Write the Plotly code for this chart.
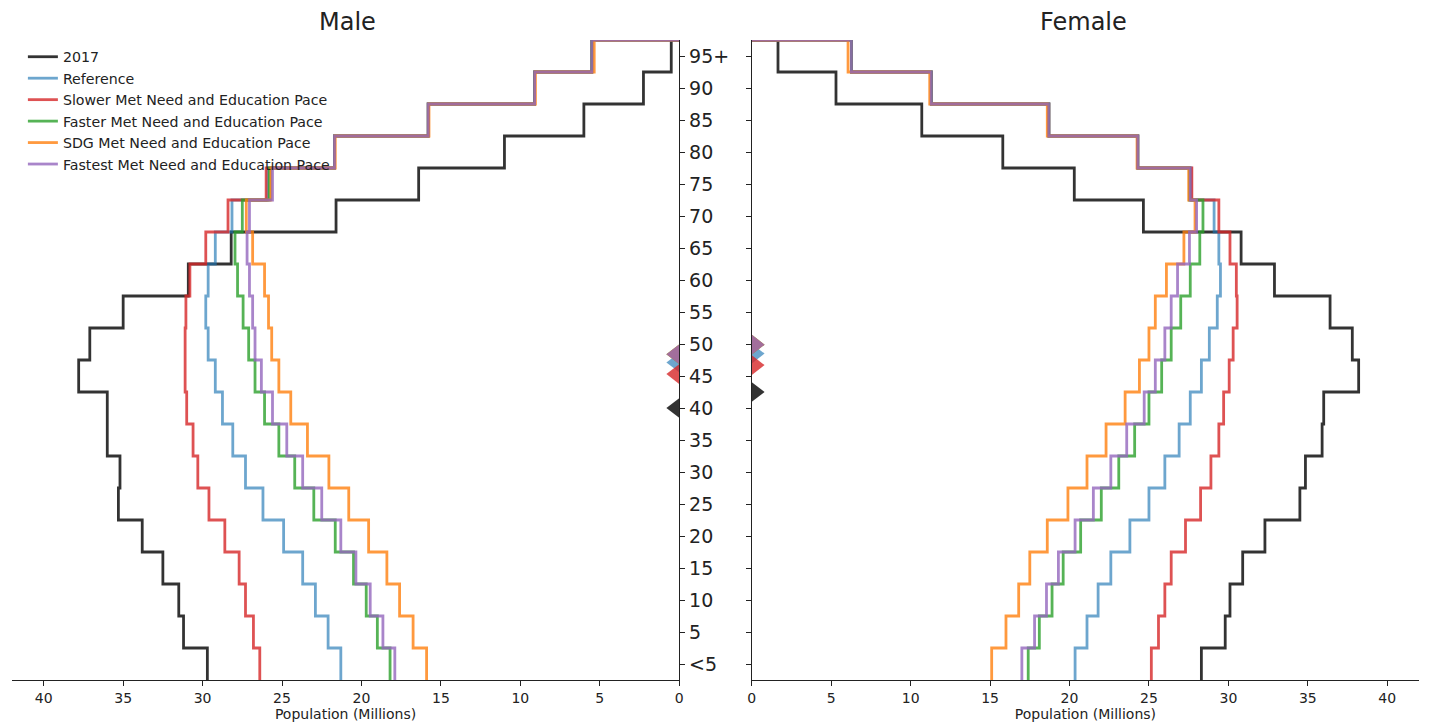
import numpy as np
import plotly.graph_objects as go

# ---------------- data ----------------
age_labels = ['<5', '5', '10', '15', '20', '25', '30', '35', '40', '45',
              '50', '55', '60', '65', '70', '75', '80', '85', '90', '95+']

series_names = ['2017', 'Reference', 'Slower Met Need and Education Pace',
                'Faster Met Need and Education Pace', 'SDG Met Need and Education Pace',
                'Fastest Met Need and Education Pace']

male_2017 = [29.7, 31.2, 31.5, 32.5, 33.8, 35.3, 35.2, 36.0, 36.0, 37.8,
             37.1, 35.0, 30.9, 28.2, 21.6, 16.4, 11.0, 6.0, 2.25, 0.5]
male_reference = [21.3, 22.1, 22.9, 23.7, 24.9, 26.2, 27.3, 28.1, 28.75, 29.2,
                  29.65, 29.8, 29.65, 29.2, 28.15, 25.9, 21.7, 15.8, 9.1, 5.5]
male_slower = [26.4, 26.8, 27.3, 27.7, 28.6, 29.6, 30.3, 30.6, 31.0, 31.1,
               31.1, 31.05, 30.8, 29.8, 28.4, 26.0, 21.7, 15.8, 9.1, 5.5]
male_faster = [18.2, 19.0, 19.7, 20.5, 21.65, 23.0, 24.2, 25.2, 26.1, 26.7,
               27.1, 27.45, 27.8, 27.96, 27.5, 25.8, 21.7, 15.8, 9.1, 5.5]
male_sdg = [15.9, 16.75, 17.6, 18.4, 19.55, 20.8, 22.05, 23.4, 24.45, 25.2,
            25.65, 25.85, 26.1, 26.85, 27.25, 25.7, 21.65, 15.75, 9.05, 5.35]
male_fastest = [17.9, 18.65, 19.45, 20.35, 21.3, 22.5, 23.7, 24.7, 25.6, 26.3,
                26.7, 26.85, 27.05, 27.2, 27.05, 25.6, 21.7, 15.8, 9.1, 5.5]

female_2017 = [28.3, 29.8, 30.1, 30.9, 32.3, 34.5, 34.85, 35.9, 36.0, 38.2,
               37.8, 36.4, 32.9, 30.8, 24.65, 20.3, 15.8, 10.7, 5.3, 1.65]
female_reference = [20.35, 21.1, 21.8, 22.6, 23.8, 25.0, 26.0, 26.9, 27.6, 28.3,
                    28.8, 29.3, 29.5, 29.4, 29.1, 27.65, 24.3, 18.7, 11.3, 6.27]
female_slower = [25.15, 25.6, 26.0, 26.4, 27.3, 28.25, 28.9, 29.4, 29.7, 30.05,
                 30.3, 30.55, 30.5, 30.1, 29.4, 27.7, 24.3, 18.7, 11.3, 6.27]
female_faster = [17.4, 18.1, 18.9, 19.6, 20.7, 22.0, 23.1, 24.1, 25.0, 25.8,
                 26.4, 27.0, 27.6, 28.2, 28.4, 27.55, 24.3, 18.7, 11.3, 6.27]
female_sdg = [15.1, 16.0, 16.8, 17.5, 18.6, 19.9, 21.1, 22.3, 23.5, 24.4,
              25.0, 25.4, 26.1, 27.2, 27.9, 27.5, 24.25, 18.6, 11.2, 6.06]
female_fastest = [17.0, 17.8, 18.55, 19.3, 20.35, 21.5, 22.6, 23.6, 24.7, 25.4,
                  26.0, 26.4, 26.8, 27.55, 28.0, 27.6, 24.3, 18.7, 11.3, 6.27]

# median ages (years), shown as triangles at the centre axis
male_median = [40.0, 47.1, 45.3, 48.4, 48.4, 48.4]
female_median = [42.5, 48.5, 46.7, 49.9, 49.9, 49.9]

colors = ['rgba(0,0,0,0.8)', 'rgba(31,119,180,0.65)', 'rgba(214,39,40,0.8)',
          'rgba(44,160,44,0.8)', 'rgba(255,127,14,0.8)', 'rgba(148,103,189,0.8)']

male_data = [male_2017, male_reference, male_slower, male_faster, male_sdg, male_fastest]
female_data = [female_2017, female_reference, female_slower, female_faster, female_sdg, female_fastest]

FONT = 'DejaVu Sans'
TXT = '#222222'


def step_path(values):
    """Vertical step per age group, closing to zero at the top edge."""
    v = np.asarray(values, dtype=float)
    idx = np.arange(len(v))
    xs = np.repeat(v, 2)
    ys = np.column_stack([idx - 0.5, idx + 0.5]).ravel()
    xs = np.append(xs, 0.0)
    ys = np.append(ys, len(v) - 0.5)
    return xs, ys


fig = go.Figure()

for name, col, mv in zip(series_names, colors, male_data):
    x, y = step_path(mv)
    fig.add_trace(go.Scatter(x=x, y=y, mode='lines', name=name,
                             line=dict(color=col, width=2.8),
                             xaxis='x', yaxis='y', showlegend=True))
for name, col, fv in zip(series_names, colors, female_data):
    x, y = step_path(fv)
    fig.add_trace(go.Scatter(x=x, y=y, mode='lines', name=name,
                             line=dict(color=col, width=2.8),
                             xaxis='x2', yaxis='y2', showlegend=False))

for name, col, m in zip(series_names, colors, male_median):
    fig.add_trace(go.Scatter(x=[0.27], y=[m / 5.0], mode='markers', name=name,
                             marker=dict(symbol='triangle-left', size=17, color=col),
                             cliponaxis=False, xaxis='x', yaxis='y', showlegend=False))
for name, col, m in zip(series_names, colors, female_median):
    fig.add_trace(go.Scatter(x=[0.27], y=[m / 5.0], mode='markers', name=name,
                             marker=dict(symbol='triangle-right', size=17, color=col),
                             cliponaxis=False, xaxis='x2', yaxis='y2', showlegend=False))

W, H = 1429, 727
male_dom = [8 / W, 679 / W]
female_dom = [752 / W, 1423 / W]
y_dom = [1 - 680 / H, 1 - 40 / H]

xcommon = dict(tickvals=list(range(0, 41, 5)), ticks='outside', ticklen=5, tickwidth=1.2,
               tickcolor=TXT, showline=True, linecolor=TXT, linewidth=1.2,
               showgrid=False, zeroline=False,
               tickfont=dict(size=14, color=TXT, family=FONT),
               title=dict(text='Population (Millions)', font=dict(size=14, color=TXT, family=FONT),
                          standoff=4))
ycommon = dict(range=[-0.5, 19.5], domain=y_dom, tickvals=list(range(20)), ticktext=age_labels,
               ticks='outside', ticklen=5, tickwidth=1.2, tickcolor=TXT,
               showline=True, linecolor=TXT, linewidth=1.2, showgrid=False, zeroline=False)

fig.update_layout(
    width=W, height=H,
    margin=dict(l=0, r=0, t=0, b=0),
    paper_bgcolor='white', plot_bgcolor='white',
    font=dict(family=FONT, color=TXT),
    xaxis=dict(domain=male_dom, range=[42, 0], anchor='y', **xcommon),
    xaxis2=dict(domain=female_dom, range=[0, 42], anchor='y2', **xcommon),
    yaxis=dict(anchor='x', side='right', showticklabels=True,
               tickfont=dict(size=19, color=TXT, family=FONT), **ycommon),
    yaxis2=dict(anchor='x2', side='left', showticklabels=False, **ycommon),
    legend=dict(x=19 / W, y=1 - 41 / H, xanchor='left', yanchor='top',
                bgcolor='rgba(0,0,0,0)', font=dict(size=14.2, color=TXT, family=FONT),
                tracegroupgap=0),
    showlegend=True,
    annotations=[
        dict(text='Male', x=(11 / W + 679 / W) / 2, y=1 - 22 / H, xref='paper', yref='paper',
             showarrow=False, font=dict(size=24, color=TXT, family=FONT), xanchor='center', yanchor='middle'),
        dict(text='Female', x=(752 / W + 1420 / W) / 2, y=1 - 22 / H, xref='paper', yref='paper',
             showarrow=False, font=dict(size=24, color=TXT, family=FONT), xanchor='center', yanchor='middle'),
    ],
)

fig.write_html('out.html', config={'displayModeBar': False})

# remove the browser's default page margin so the figure sits at the window origin
with open('out.html', 'r', encoding='utf-8') as fh:
    html = fh.read()
html = html.replace('<head>', '<head><style>html,body{margin:0;padding:0;overflow:hidden;}</style>', 1)
with open('out.html', 'w', encoding='utf-8') as fh:
    fh.write(html)
